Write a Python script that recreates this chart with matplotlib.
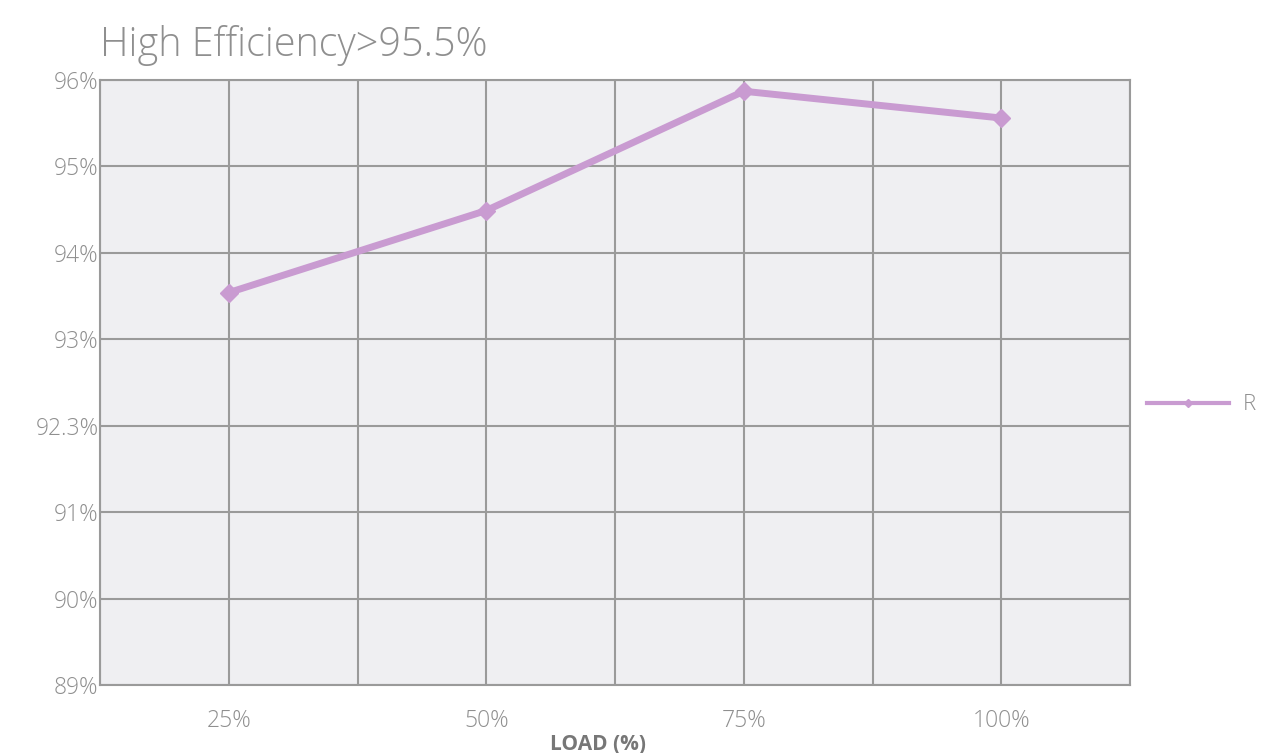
import matplotlib.pyplot as plt
import numpy as np

loads = ['25%', '50%', '75%', '100%']
efficiency = [93.54, 94.49, 95.87, 95.56]

y_ticks = [89, 90, 91, 92.3, 93, 94, 95, 96]
y_tick_labels = ['89%', '90%', '91%', '92.3%', '93%', '94%', '95%', '96%']

plt.rcParams['font.family'] = ['Open Sans', 'DejaVu Sans']

fig = plt.figure(figsize=(12.63, 7.53), dpi=100)
ax = fig.add_axes([100 / 1263, 1 - 685 / 753, 1030 / 1263, 605 / 753])
ax.set_facecolor('#efeff2')

# the y axis is not linear: ticks are evenly spaced by index
ypos = np.arange(len(y_ticks))
x = np.arange(1, len(loads) + 1)
y = np.interp(efficiency, y_ticks, ypos)

line_color = '#c99bd1'
grid_color = '#9a9a9a'
text_color = '#8f8f8f'

ax.plot(x, y, color=line_color, linewidth=5, marker='D', markersize=9,
        solid_capstyle='round', label='R', zorder=3)

ax.set_xlim(0.5, len(loads) + 0.5)
ax.set_ylim(0, len(y_ticks) - 1)
ax.set_xticks(x)
ax.set_xticklabels(loads)
ax.set_xticks(np.arange(0.5, len(loads) + 0.6, 1.0), minor=True)
ax.set_yticks(ypos)
ax.set_yticklabels(y_tick_labels)

ax.grid(True, which='both', axis='x', color=grid_color, linewidth=1.5)
ax.grid(True, which='major', axis='y', color=grid_color, linewidth=1.5)
ax.set_axisbelow(True)
ax.tick_params(which='both', length=0, colors=text_color, labelsize=16.5)
ax.tick_params(axis='x', pad=17)
ax.tick_params(axis='y', pad=1)
for lbl in ax.get_xticklabels() + ax.get_yticklabels():
    lbl.set_fontweight('light')
for s in ax.spines.values():
    s.set_color(grid_color)
    s.set_linewidth(1.5)

fig.text(100 / 1263, 1 - 46 / 753, 'High Efficiency>95.5%', fontsize=28.5,
         color=text_color, fontweight='light', va='center', ha='left')
fig.text(598 / 1263, 1 - 744 / 753, 'LOAD (%)', fontsize=15,
         color='#777777', fontweight='bold', va='center', ha='center')

leg_line = plt.Line2D([], [], color=line_color, linewidth=3, marker='D', markersize=4)
fig.legend([leg_line], ['R'], loc='center left', bbox_to_anchor=(1147 / 1263, 1 - 405 / 753),
           frameon=False, borderpad=0, borderaxespad=0, handlelength=3.7,
           handletextpad=0.6, labelcolor=text_color,
           prop={'size': 16, 'weight': 'light'})

fig.savefig('out.png', dpi=100, facecolor='white')
